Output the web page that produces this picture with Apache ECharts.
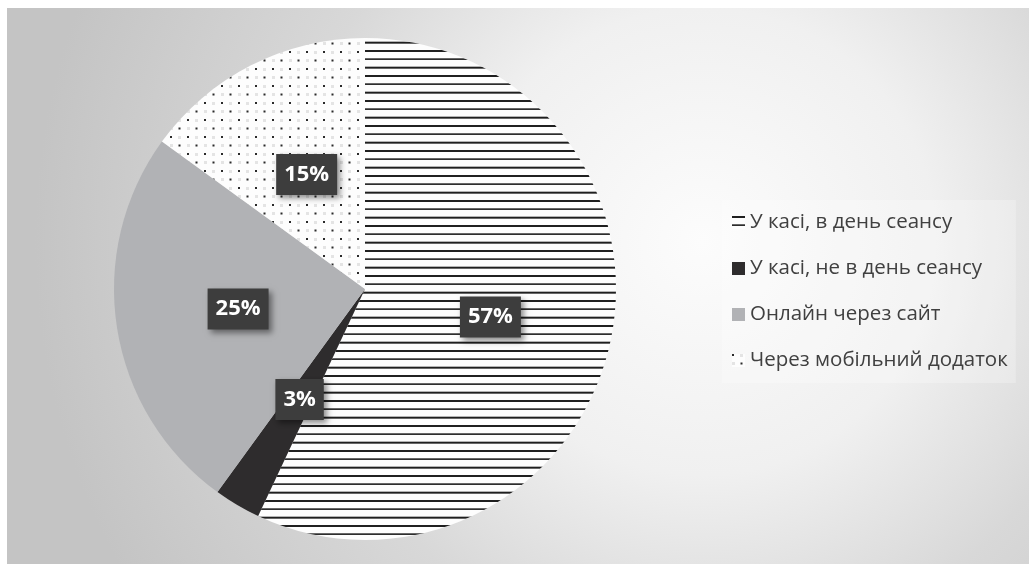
<!DOCTYPE html>
<html>
<head>
<meta charset="utf-8">
<script src="https://cdn.jsdelivr.net/npm/echarts@6/dist/echarts.min.js"></script>
<style>
  html, body { margin: 0; padding: 0; background: #ffffff; }
  #chart { width: 1032px; height: 564px; }
</style>
</head>
<body>
<div id="chart"></div>
<script>
// Способи купівлі квитків (частка, %)
const categories = [
  'У касі, в день сеансу',
  'У касі, не в день сеансу',
  'Онлайн через сайт',
  'Через мобільний додаток'
];
const shares = [57, 3, 25, 15];

// Horizontal stripes fill
function stripeFill() {
  const c = document.createElement('canvas');
  c.width = 8; c.height = 25;
  const g = c.getContext('2d');
  g.fillStyle = '#fdfdfd';
  g.fillRect(0, 0, 8, 25);
  g.fillStyle = '#1f1f1f';
  g.fillRect(0, 0, 8, 2);
  g.fillRect(0, 8.33, 8, 1.6);
  g.fillRect(0, 16.67, 8, 2);
  return { image: c, repeat: 'repeat' };
}

// Sparse dotted fill
function dotFill() {
  const c = document.createElement('canvas');
  c.width = 17; c.height = 17;
  const g = c.getContext('2d');
  g.fillStyle = '#fdfdfd';
  g.fillRect(0, 0, 17, 17);
  g.fillStyle = '#e4e4e4';
  g.fillRect(8, 0, 3, 3);
  g.fillRect(0, 8, 3, 3);
  g.fillStyle = '#2a2a2a';
  g.fillRect(0, 0, 2, 2);
  g.fillRect(8.5, 8.5, 2, 2);
  return { image: c, repeat: 'repeat' };
}

const sliceColors = [stripeFill(), '#2e2c2d', '#b1b2b5', dotFill()];

const chart = echarts.init(document.getElementById('chart'), null, { renderer: 'canvas' });

chart.setOption({
  animation: false,
  graphic: [{
    type: 'rect',
    z: -10,
    silent: true,
    shape: { x: 7, y: 8, width: 1022, height: 556 },
    style: {
      fill: {
        type: 'radial', x: 0.68, y: 0.42, r: 1.2,
        colorStops: [
          { offset: 0, color: '#fcfcfc' },
          { offset: 0.35, color: '#f0f0f0' },
          { offset: 0.62, color: '#d8d8d8' },
          { offset: 1, color: '#c4c4c4' }
        ]
      }
    }
  }],
  legend: {
    orient: 'vertical',
    left: 722,
    top: 200,
    padding: [12, 8, 12, 10],
    backgroundColor: 'rgba(255,255,255,0.25)',
    icon: 'rect',
    itemWidth: 13,
    itemHeight: 13,
    itemGap: 25,
    textStyle: {
      fontFamily: 'Open Sans',
      fontSize: 20.5,
      lineHeight: 20,
      color: '#404040'
    },
    data: categories
  },
  series: [{
    type: 'pie',
    center: [365, 289],
    radius: [0, 251],
    startAngle: 90,
    clockwise: true,
    data: categories.map((name, i) => ({
      name: name,
      value: shares[i],
      itemStyle: { color: sliceColors[i] }
    })),
    label: {
      show: true,
      position: 'inside',
      formatter: '{c}%',
      color: '#ffffff',
      fontFamily: 'Open Sans',
      fontWeight: 'bold',
      fontSize: 22,
      lineHeight: 25,
      backgroundColor: '#3d3d3d',
      padding: [8, 8],
      shadowColor: 'rgba(0,0,0,0.45)',
      shadowBlur: 6,
      shadowOffsetX: 3,
      shadowOffsetY: 3
    },
    labelLine: { show: false },
    emphasis: { disabled: true }
  }]
});
</script>
</body>
</html>
